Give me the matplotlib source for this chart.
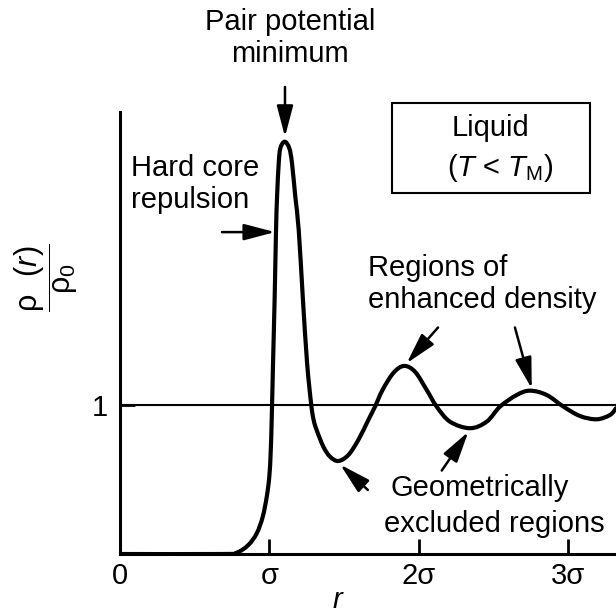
import matplotlib
matplotlib.use("Agg")
import matplotlib.pyplot as plt
import numpy as np
from matplotlib.path import Path
from matplotlib.patches import PathPatch

plt.rcParams["font.family"] = ["Liberation Sans", "DejaVu Sans"]
plt.rcParams["mathtext.fontset"] = "custom"
plt.rcParams["mathtext.rm"] = "Liberation Sans"
plt.rcParams["mathtext.it"] = "Liberation Sans:italic"

# ── Data: radial distribution of a liquid, r in units of sigma ────────────────
R = [0.000, 0.690, 0.782, 0.859, 0.916, 0.956, 0.983, 1.000, 1.009, 1.016,
     1.025, 1.036, 1.045, 1.052, 1.063, 1.074, 1.103, 1.134, 1.152, 1.174,
     1.197, 1.224, 1.253, 1.281, 1.297, 1.317, 1.362, 1.407, 1.462, 1.529,
     1.596, 1.663, 1.708, 1.758, 1.831, 1.902, 1.976, 2.054, 2.121, 2.210,
     2.344, 2.456, 2.545, 2.657, 2.746, 2.858, 2.970, 3.081, 3.193, 3.282,
     3.322]
G = [0.000, 0.000, 0.009, 0.060, 0.139, 0.250, 0.385, 0.519, 0.678, 0.899,
     1.282, 1.727, 2.174, 2.398, 2.622, 2.723, 2.767, 2.723, 2.622, 2.398,
     2.174, 1.727, 1.282, 1.000, 0.899, 0.832, 0.720, 0.653, 0.624, 0.664,
     0.765, 0.899, 0.989, 1.100, 1.215, 1.262, 1.223, 1.101, 0.989, 0.888,
     0.844, 0.888, 0.989, 1.067, 1.096, 1.067, 0.989, 0.926, 0.904, 0.933,
     0.978]

XTICKS = [0, 1, 2, 3]
XTICK_LABELS = ["0", "σ", "2σ", "3σ"]
YTICKS = [1]
YTICK_LABELS = ["1"]

W, H = 616, 614
FS = 21


def px(x, y):
    """pixel position (from top-left) -> figure fraction"""
    return x / W, 1 - y / H


def smooth_path(xs, ys):
    """cubic Bezier path running through every point (Catmull-Rom)"""
    p = np.column_stack([xs, ys])
    n = len(p)
    verts = [p[0]]
    codes = [Path.MOVETO]
    for i in range(n - 1):
        p0 = p[max(i - 1, 0)]
        p3 = p[min(i + 2, n - 1)]
        c1 = p[i] + (p[i + 1] - p0) / 6
        c2 = p[i + 1] - (p3 - p[i]) / 6
        verts += [c1, c2, p[i + 1]]
        codes += [Path.CURVE4] * 3
    return Path(verts, codes)


fig = plt.figure(figsize=(W / 100, H / 100), dpi=100)
ax = fig.add_axes([120 / W, 60 / H, 496 / W, 442 / H])

ax.add_patch(PathPatch(smooth_path(R, G), fill=False, ec="black", lw=3.0,
                       joinstyle="round", capstyle="round", zorder=3))
ax.axhline(1, color="black", lw=1.5, zorder=2)

ax.set_xlim(0, 3.322)
ax.set_ylim(0, 2.966)
for s in ["top", "right"]:
    ax.spines[s].set_visible(False)
for s in ["left", "bottom"]:
    ax.spines[s].set_linewidth(2.2)

ax.set_xticks(XTICKS)
ax.set_xticklabels(XTICK_LABELS, fontsize=FS)
ax.set_yticks(YTICKS)
ax.set_yticklabels(YTICK_LABELS, fontsize=FS)
ax.tick_params(axis="both", direction="in", length=11, width=2, pad=6)
ax.tick_params(axis="y", pad=9)

fig.text(*px(338, 600), r"$r$", fontsize=FS, ha="center", va="center")
fig.text(*px(46, 278),
         r"$\dfrac{\mathrm{\rho}\;\;\,(r)}{\mathrm{\rho}_{\rm 0}}$",
         fontsize=22, rotation=90, ha="center", va="center")

arrow = dict(arrowstyle="-|>,head_length=1.9,head_width=0.5",
             color="black", lw=1.8, shrinkA=0, shrinkB=0)

# pair potential minimum
fig.text(*px(290, 38), "Pair potential\nminimum", fontsize=FS,
         ha="center", va="center", linespacing=1.15)
ax.annotate("", xy=(1.105, 2.80), xytext=(1.105, 3.134),
            arrowprops=arrow, annotation_clip=False)

# hard core repulsion
fig.text(*px(131, 184), "Hard core\nrepulsion", fontsize=FS,
         ha="left", va="center", linespacing=1.15)
ax.annotate("", xy=(1.038, 2.16), xytext=(0.683, 2.16), arrowprops=arrow)

# regions of enhanced density
fig.text(*px(368, 284), "Regions of\nenhanced density", fontsize=FS,
         ha="left", va="center", linespacing=1.15)
ax.annotate("", xy=(1.92, 1.28), xytext=(2.13, 1.52), arrowprops=arrow)
ax.annotate("", xy=(2.758, 1.11), xytext=(2.645, 1.52), arrowprops=arrow)

# geometrically excluded regions
fig.text(*px(390, 488), "Geometrically", fontsize=FS, ha="left", va="center")
fig.text(*px(384, 524), "excluded regions", fontsize=FS, ha="left",
         va="center")
ax.annotate("", xy=(1.475, 0.60), xytext=(1.66, 0.43), arrowprops=arrow)
ax.annotate("", xy=(2.333, 0.82), xytext=(2.155, 0.56), arrowprops=arrow)

# liquid box
box = plt.Rectangle(px(392, 193), 198 / W, 90 / H, transform=fig.transFigure,
                    fill=False, ec="black", lw=1.5)
fig.add_artist(box)
fig.text(*px(452, 128), "Liquid", fontsize=FS, ha="left", va="center")
fig.text(*px(447, 168), r"($T$ < $T_{\rm M}$)", fontsize=FS, ha="left",
         va="center")

fig.savefig("out.png", dpi=100, facecolor="white")
